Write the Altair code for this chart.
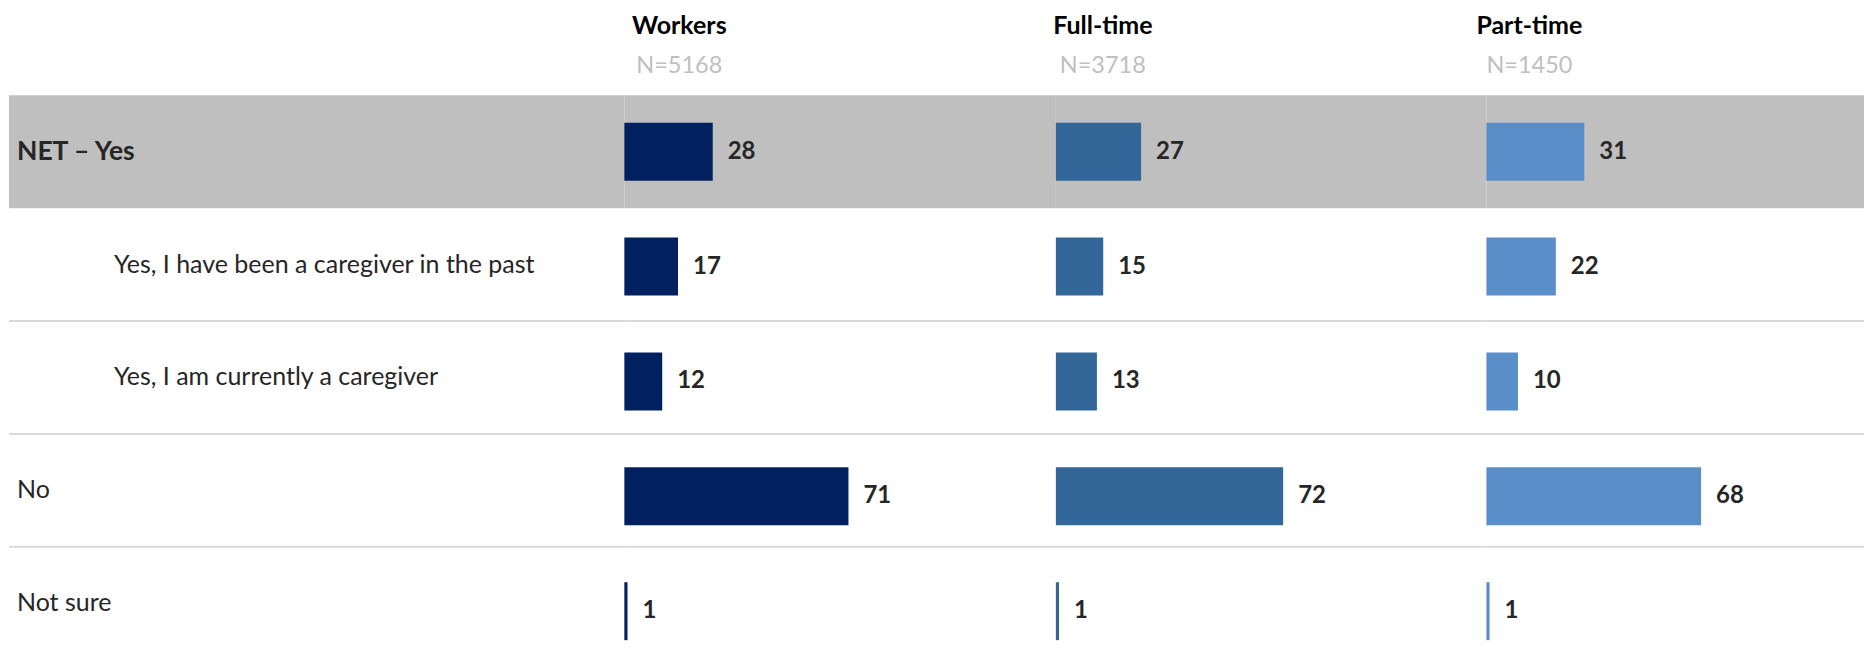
import altair as alt
import pandas as pd

rows = [
    "NET – Yes",
    "Yes, I have been a caregiver in the past",
    "Yes, I am currently a caregiver",
    "No",
    "Not sure",
]
levels = [0, 1, 1, 0, 0]
groups = ["Workers", "Full-time", "Part-time"]
group_n = ["N=5168", "N=3718", "N=1450"]
workers = [28, 17, 12, 71, 1]
full_time = [27, 15, 13, 72, 1]
part_time = [31, 22, 10, 68, 1]
series = [workers, full_time, part_time]

colors = ["#002060", "#336699", "#5A8EC8"]
band_color = "#BFBFBF"
sep_color = "#D9D9D9"
text_color = "#262626"
FONT = "Lato"

net_row = rows[0]
separator_rows = rows[2:]

PX_PER_UNIT = 3.16
label_width = 616
col_widths = [432, 431, 378]
title_dx = [56, 48, 44]
panel_height = 545

row_scale = alt.Scale(domain=rows, range=[0, 565], paddingInner=0, paddingOuter=0)
bar_scale = alt.Scale(domain=rows, range=[-1, 574], paddingInner=0, paddingOuter=0)


def y_row(**kw):
    return alt.Y("row:N", scale=row_scale, sort=rows, axis=None, **kw)


def y_bar(**kw):
    return alt.Y("row:N", scale=bar_scale, sort=rows, axis=None, **kw)


def background_layers(df):
    base = alt.Chart(df)
    band = base.transform_filter(alt.datum.row == net_row).mark_rect(
        color=band_color
    ).encode(y=y_row(), x=alt.value(0), x2=alt.value("width"))
    seps = base.transform_filter(
        alt.FieldOneOfPredicate(field="row", oneOf=separator_rows)
    ).mark_rule(color=sep_color, strokeWidth=2).encode(y=y_row(bandPosition=0))
    return alt.layer(band, seps)


# label panel
lab_df = pd.DataFrame({"row": rows, "level": levels})
lab_base = alt.Chart(lab_df)
xlev = alt.X("level:Q", scale=alt.Scale(domain=[0, 1], range=[8, 105]), axis=None)
lab_bold = lab_base.transform_filter(alt.datum.row == net_row).mark_text(
    align="left", baseline="middle", font=FONT, fontSize=26.5, fontWeight="bold",
    color=text_color
).encode(x=xlev, y=y_row(), text="row:N")
lab_norm = lab_base.transform_filter(alt.datum.row != net_row).mark_text(
    align="left", baseline="middle", font=FONT, fontSize=25, color=text_color
).encode(x=xlev, y=y_row(), text="row:N")

label_panel = alt.layer(background_layers(lab_df), lab_bold, lab_norm).properties(
    width=label_width, height=panel_height,
    title=alt.Title(" ", subtitle=" "),
)

panels = [label_panel]
for g, n, vals, c, w, dx in zip(groups, group_n, series, colors, col_widths, title_dx):
    df = pd.DataFrame({"row": rows, "value": vals})
    xs = alt.X("value:Q", scale=alt.Scale(domain=[0, w / PX_PER_UNIT], nice=False,
                                          zero=True), axis=None)
    bars = alt.Chart(df).mark_bar(size=58, color=c).encode(x=xs, y=y_bar())
    txt = alt.Chart(df).mark_text(
        align="left", baseline="middle", dx=15, font=FONT, fontSize=24,
        fontWeight="bold", color=text_color
    ).encode(x=xs, y=y_bar(), text="value:Q")
    panel = alt.layer(
        background_layers(df), alt.layer(bars, txt)
    ).resolve_scale(y="independent").properties(
        width=w, height=panel_height,
        title=alt.Title(g, subtitle=n, anchor="start", align="center", dx=dx),
    )
    panels.append(panel)

chart = alt.hconcat(*panels, spacing=0, bounds="flush").properties(
    padding={"top": 6, "left": 0, "right": 0, "bottom": 0}
).configure_view(
    stroke=None
).configure_title(
    font=FONT, fontSize=25, fontWeight="bold", color="#000000",
    subtitleFont=FONT, subtitleFontSize=23.5, subtitleColor="#C0C0C0",
    subtitlePadding=15, offset=17.5,
)

chart.save("out.html", embed_options={"renderer": "svg", "actions": False})
